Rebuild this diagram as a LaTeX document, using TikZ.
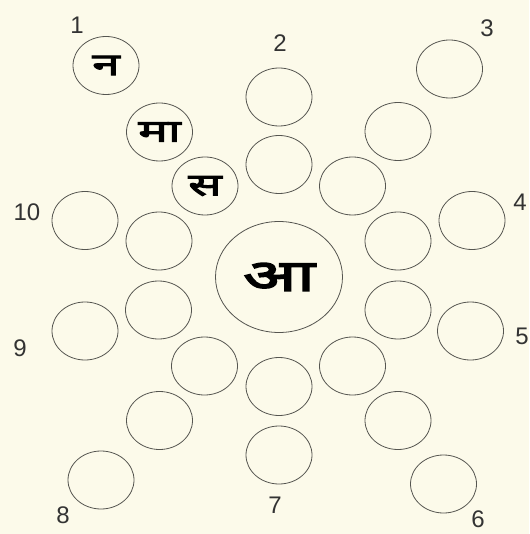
\documentclass[tikz,border=0pt]{standalone}
\usepackage{fontspec}
\setmainfont{Liberation Sans}
\newfontfamily\deva[Script=Devanagari,FakeBold=3.5,FakeStretch=1.6]{Noto Sans}
\usetikzlibrary{
    shapes.geometric
}
\definecolor{paper}{RGB}{252,250,234}
\definecolor{ink}{RGB}{85,85,80}
\tikzset{
  every path/.style={
    ink,
    line width=0.8pt
  },
  cell/.style={
    draw=ink,
    ellipse,
    minimum width=66pt,
    minimum height=58pt,
    inner sep=0pt,
    font=\deva\fontsize{31}{31}\selectfont,
    text=black
  },
  hub/.style={
    cell,
    minimum width=127pt,
    minimum height=111pt,
    font=\deva\fontsize{44}{44}\selectfont
  },
  num/.style={
    font=\fontsize{24}{24}\selectfont,
    text=black!80,
    inner sep=0pt
  }
}

\begin{document}
\begin{tikzpicture}[x=1pt,y=-1pt]
    \fill[paper] (0,0) rectangle (529,534);
    \useasboundingbox (0,0) rectangle (529,534);

    % centre
    \node[hub] (c) at (279,277) {आ};

    % ray 1
    \node[cell] (a1) at (205,186) {स};
    \node[cell] (b1) at (159.5,132) {मा};
    \node[cell] (d1) at (106,65.5) {न};
    % ray 2
    \node[cell] (a2) at (279,164.5) {};
    \node[cell] (d2) at (279,97) {};
    % ray 3
    \node[cell] (a3) at (352.5,186) {};
    \node[cell] (b3) at (398,131.5) {};
    \node[cell] (d3) at (449.5,69) {};
    % ray 4
    \node[cell] (a4) at (398,241) {};
    \node[cell] (d4) at (472,220.5) {};
    % ray 5
    \node[cell] (a5) at (398,310) {};
    \node[cell] (d5) at (470.5,331) {};
    % ray 6
    \node[cell] (a6) at (352.5,366) {};
    \node[cell] (b6) at (398,420.5) {};
    \node[cell] (d6) at (443.5,484) {};
    % ray 7
    \node[cell] (a7) at (279,386.5) {};
    \node[cell] (d7) at (279,455) {};
    % ray 8
    \node[cell] (a8) at (204.5,366) {};
    \node[cell] (b8) at (159.5,420.5) {};
    \node[cell] (d8) at (101,480) {};
    % ray 9
    \node[cell] (a9) at (158.5,310) {};
    \node[cell] (d9) at (85,331) {};
    % ray 10
    \node[cell] (a10) at (159,241) {};
    \node[cell] (d10) at (85,220.5) {};

    % numbers
    \node[num] (n1) at (77,25) {1};
    \node[num] (n2) at (280,43) {2};
    \node[num] (n3) at (487,28) {3};
    \node[num] (n4) at (520,202) {4};
    \node[num] (n5) at (522,336) {5};
    \node[num] (n6) at (478,519) {6};
    \node[num] (n7) at (275,505) {7};
    \node[num] (n8) at (63,515) {8};
    \node[num] (n9) at (20,348) {9};
    \node[num] (n10) at (27,212) {10};
\end{tikzpicture}
\end{document}
